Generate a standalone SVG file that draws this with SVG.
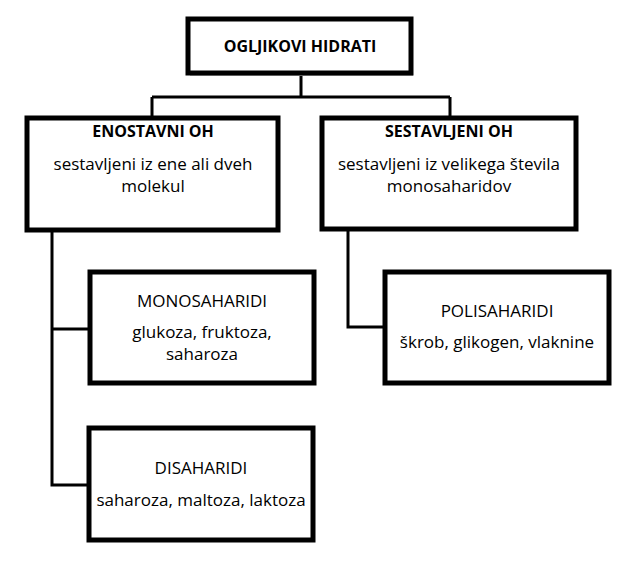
<svg xmlns="http://www.w3.org/2000/svg" width="625" height="565" viewBox="0 0 625 565">
<style>
.b{fill:#fff;stroke:#000;stroke-width:5}
.s{fill:#bbb}
.c{fill:none;stroke:#000;stroke-width:3}
text{font-family:"Open Sans","Liberation Sans",sans-serif;font-size:17px;text-anchor:middle;fill:#000}
.h{font-weight:bold;font-size:16px}
</style>
<rect width="625" height="565" fill="#fff"/>
<g id="connectors">
<path class="c" d="M301 73V97M152 97H450M152 97V118M450 97V118"/>
<path class="c" d="M52 230V485H90M52 329H90"/>
<path class="c" d="M348 229V327H385"/>
</g>
<g id="n1"><rect class="s" x="190" y="21" width="223" height="55"/><rect class="b" x="188" y="19" width="223" height="54"/><text class="h" x="300" y="52">OGLJIKOVI HIDRATI</text></g>
<g id="n2"><rect class="s" x="29" y="120" width="251" height="112"/><rect class="b" x="27" y="118" width="251" height="112"/><text class="h" x="153" y="137">ENOSTAVNI OH</text><text x="153" y="170">sestavljeni iz ene ali dveh</text><text x="153" y="192">molekul</text></g>
<g id="n3"><rect class="s" x="324" y="120" width="254" height="111"/><rect class="b" x="322" y="118" width="254" height="111"/><text class="h" x="449" y="137">SESTAVLJENI OH</text><text x="449" y="170">sestavljeni iz velikega števila</text><text x="449" y="192">monosaharidov</text></g>
<g id="n4"><rect class="s" x="92" y="274" width="224" height="111"/><rect class="b" x="90" y="272" width="224" height="111"/><text x="202" y="307">MONOSAHARIDI</text><text x="202" y="338">glukoza, fruktoza,</text><text x="202" y="360">saharoza</text></g>
<g id="n5"><rect class="s" x="91" y="430" width="224" height="112"/><rect class="b" x="89" y="428" width="224" height="112"/><text x="201" y="474">DISAHARIDI</text><text x="201" y="506">saharoza, maltoza, laktoza</text></g>
<g id="n6"><rect class="s" x="387" y="274" width="224" height="111"/><rect class="b" x="385" y="272" width="224" height="111"/><text x="497" y="317">POLISAHARIDI</text><text x="497" y="348">škrob, glikogen, vlaknine</text></g>
</svg>
